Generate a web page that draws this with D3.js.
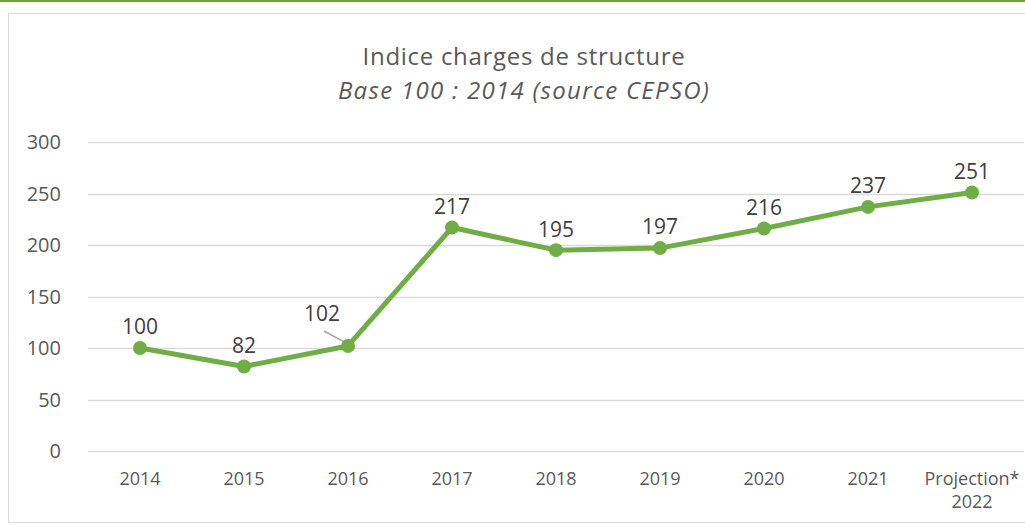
<!DOCTYPE html>
<html>
<head>
<meta charset="utf-8">
<script src="https://cdn.jsdelivr.net/npm/d3@7.9.0/dist/d3.min.js"></script>
<style>
  body { margin: 0; background: #fff; }
  svg { display: block; font-family: "Open Sans", sans-serif; }
</style>
</head>
<body>
<svg id="chart" width="1025" height="525"></svg>
<script>
const categories = ['2014', '2015', '2016', '2017', '2018', '2019', '2020', '2021', 'Projection*\n2022'];
const values = [100, 82, 102, 217, 195, 197, 216, 237, 251];
const yTicks = [0, 50, 100, 150, 200, 250, 300];

const svg = d3.select('#chart');

// green rule on top and the chart frame
svg.append('rect').attr('x', 0).attr('y', 0).attr('width', 1025).attr('height', 2).attr('fill', '#6aa832');
svg.append('rect')
  .attr('x', 8.5).attr('y', 13.5).attr('width', 1030).attr('height', 509)
  .attr('fill', 'none').attr('stroke', '#d9d9d9').attr('stroke-width', 1);

const x = d3.scaleBand().domain(categories).range([88, 1024]);
const y = d3.scaleLinear().domain([0, 300]).range([451, 142]);

// title
svg.append('text')
  .attr('x', 524).attr('y', 65)
  .attr('text-anchor', 'middle')
  .attr('fill', '#595959')
  .attr('font-size', 24)
  .attr('letter-spacing', 0.7)
  .text('Indice charges de structure');
svg.append('text')
  .attr('x', 524).attr('y', 99)
  .attr('text-anchor', 'middle')
  .attr('fill', '#595959')
  .attr('font-size', 24)
  .attr('letter-spacing', 1.3)
  .attr('font-style', 'italic')
  .text('Base 100 : 2014 (source CEPSO)');

// gridlines
svg.append('g')
  .selectAll('line')
  .data(yTicks)
  .join('line')
  .attr('x1', 88).attr('x2', 1024)
  .attr('y1', (d) => Math.round(y(d)) + 0.5)
  .attr('y2', (d) => Math.round(y(d)) + 0.5)
  .attr('stroke', '#d9d9d9')
  .attr('stroke-width', 1.5);

// y labels
svg.append('g')
  .selectAll('text')
  .data(yTicks)
  .join('text')
  .attr('x', 61)
  .attr('y', (d) => y(d))
  .attr('dy', '0.35em')
  .attr('text-anchor', 'end')
  .attr('fill', '#595959')
  .attr('font-size', 20)
  .text((d) => d);

// x labels
const xl = svg.append('g')
  .selectAll('text')
  .data(categories)
  .join('text')
  .attr('x', (d) => x(d) + x.bandwidth() / 2)
  .attr('y', 485)
  .attr('text-anchor', 'middle')
  .attr('fill', '#595959')
  .attr('font-size', 18);
xl.each(function (d) {
  const parts = d.split('\n');
  d3.select(this).selectAll('tspan')
    .data(parts)
    .join('tspan')
    .attr('x', x(d) + x.bandwidth() / 2)
    .attr('dy', (p, i) => (i === 0 ? 0 : 23))
    .text((p) => p);
});

const cx = (i) => x(categories[i]) + x.bandwidth() / 2;

// line
const line = d3.line()
  .x((d, i) => cx(i))
  .y((d) => y(d));

// leader line for the 2016 label
svg.append('line')
  .attr('x1', 324).attr('y1', 331)
  .attr('x2', cx(2) - 2).attr('y2', y(values[2]) - 3)
  .attr('stroke', '#a6a6a6').attr('stroke-width', 1.5);

svg.append('path')
  .datum(values)
  .attr('d', line)
  .attr('fill', 'none')
  .attr('stroke', '#70ad47')
  .attr('stroke-width', 5)
  .attr('stroke-linejoin', 'round');

svg.append('g')
  .selectAll('circle')
  .data(values)
  .join('circle')
  .attr('cx', (d, i) => cx(i))
  .attr('cy', (d) => y(d))
  .attr('r', 7)
  .attr('fill', '#70ad47');

// data labels
svg.append('g')
  .selectAll('text')
  .data(values)
  .join('text')
  .attr('x', (d, i) => (i === 2 ? cx(i) - 26 : cx(i)))
  .attr('y', (d, i) => (i === 2 ? y(d) - 32 : y(d) - 21))
  .attr('dy', '0.35em')
  .attr('text-anchor', 'middle')
  .attr('fill', '#404040')
  .attr('font-size', 21)
  .text((d) => d);
</script>
</body>
</html>
